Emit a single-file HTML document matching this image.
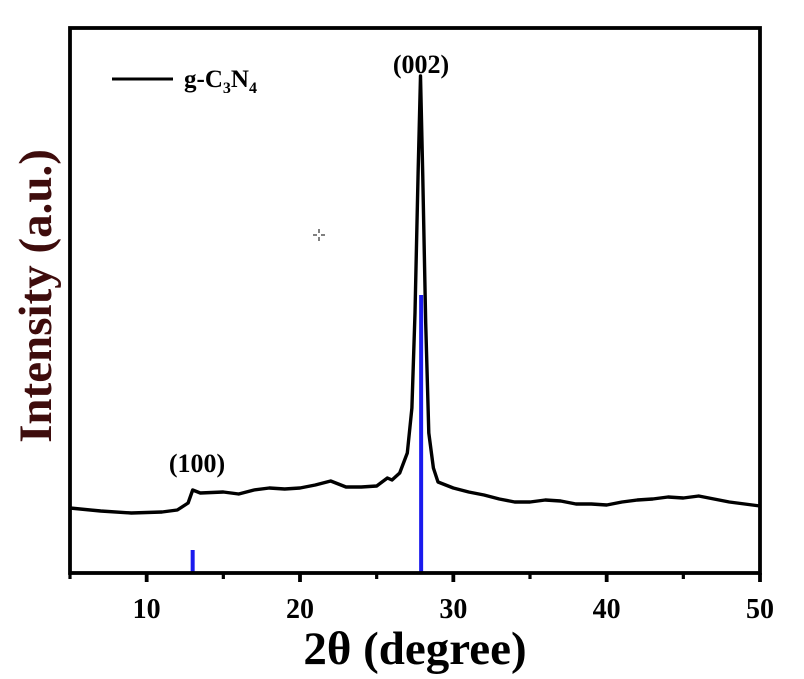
<!DOCTYPE html>
<html><head><meta charset="utf-8"><style>
body{margin:0;background:#fff}
svg{display:block;font-family:"Liberation Serif",serif;font-weight:bold}
</style></head><body>
<svg id="chart" width="804" height="679"></svg>
<script>
const twoTheta=[5,7,9,11,12,12.7,13,13.5,15,16,17,18,19,20,21,22,23,24,25,25.7,26,26.5,27,27.3,27.5,27.7,27.86,28.0,28.2,28.4,28.7,29,30,31,32,33,34,35,36,37,38,39,40,41,42,43,44,45,46,47,48,49,50];
const intensity=[65,62,60,61,63,70,83,80,81,79,83,85,84,85,88,92,86,86,87,95,93,100,120,165,260,400,497,400,250,140,105,91,85,81,78,74,71,71,73,72,69,69,68,71,73,74,76,75,77,74,71,69,67];
const refPos=[13.0,27.9];
const refInt=[23,278];
const xTicks=[10,20,30,40,50];
const xMinor=[5,15,25,35,45];
const NS="http://www.w3.org/2000/svg";
const svg=document.getElementById('chart');
const L=70,R=760,T=28,B=573,xMin=5,xMax=50,yMax=545;
const xs=v=>L+(v-xMin)/(xMax-xMin)*(R-L);
const ys=v=>B-v/yMax*(B-T);
function mk(tag,attrs){const e=document.createElementNS(NS,tag);for(const k in attrs)e.setAttribute(k,attrs[k]);svg.appendChild(e);return e;}
refPos.forEach((p,i)=>{const r=mk('rect',{x:xs(p)-2,y:ys(refInt[i]),width:4,height:B-ys(refInt[i]),fill:'#1a1aee'});

});
const d=twoTheta.map((t,i)=>(i?'L':'M')+xs(t).toFixed(1)+','+ys(intensity[i]).toFixed(1)).join(' ');
const c=mk('path',{d:d,fill:'none',stroke:'#000','stroke-width':3.4,'stroke-linejoin':'round'});


const f=mk('rect',{x:L,y:T,width:R-L,height:B-T,fill:'none',stroke:'#000','stroke-width':3.8});


xTicks.forEach(t=>{const l=mk('line',{x1:xs(t),x2:xs(t),y1:B,y2:B+9,stroke:'#000','stroke-width':3.8});


const tx=mk('text',{x:xs(t),y:618,'font-size':28,'text-anchor':'middle'});tx.textContent=t;

});
xMinor.forEach(t=>{const l=mk('line',{x1:xs(t),x2:xs(t),y1:B,y2:B+6,stroke:'#000','stroke-width':3.2});

});
</script>
<div style="position:absolute;left:0;top:0;width:804px;height:679px;pointer-events:none">
<svg width="804" height="679" style="font-family:'Liberation Serif',serif;font-weight:bold">
<text x="415" y="664" font-size="47" text-anchor="middle">2θ (degree)</text>
<text transform="translate(51,296) rotate(-90)" font-size="47" text-anchor="middle" fill="#3e0c0c">Intensity (a.u.)</text>
<line x1="112" y1="79" x2="173" y2="79" stroke="#000" stroke-width="3"/>
<text x="184" y="87" font-size="25">g-C<tspan font-size="16" dy="6">3</tspan><tspan dy="-6">N</tspan><tspan font-size="16" dy="6">4</tspan></text>
<text x="421" y="73" font-size="26" text-anchor="middle">(002)</text>
<text x="197" y="472" font-size="26" text-anchor="middle">(100)</text>
<g stroke="#000" stroke-width="1">
<line x1="313" y1="235" x2="317" y2="235"/><line x1="321" y1="235" x2="325" y2="235"/>
<line x1="319" y1="229" x2="319" y2="233"/><line x1="319" y1="237" x2="319" y2="241"/></g>
</svg></div>
</body></html>
